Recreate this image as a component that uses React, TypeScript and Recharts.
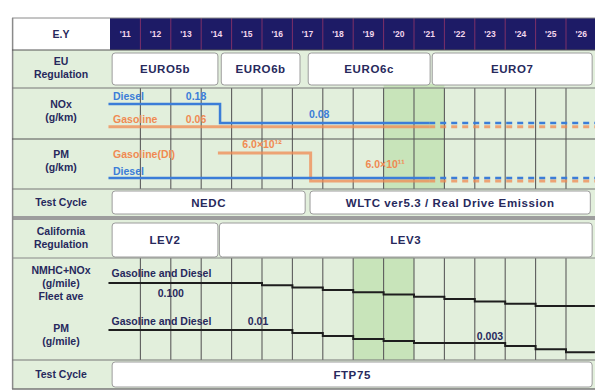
import React from 'react';
import {
  ComposedChart, XAxis, YAxis, Line, ReferenceArea, ReferenceLine, ReferenceDot,
} from 'recharts';

const W = 595;
const H = 392;

// ---------- data ----------
const years = [2011, 2012, 2013, 2014, 2015, 2016, 2017, 2018, 2019, 2020, 2021, 2022, 2023, 2024, 2025, 2026];
const yearLabels = ["'11", "'12", "'13", "'14", "'15", "'16", "'17", "'18", "'19", "'20", "'21", "'22", "'23", "'24", "'25", "'26"];

const euStages = [
  { name: 'EURO5b', from: 2011.07, to: 2014.55 },
  { name: 'EURO6b', from: 2014.66, to: 2017.25 },
  { name: 'EURO6c', from: 2017.52, to: 2021.53 },
  { name: 'EURO7', from: 2021.6, to: 2026.86 },
];
const euCycles = [
  { name: 'NEDC', from: 2011.07, to: 2017.42 },
  { name: 'WLTC ver5.3 / Real Drive Emission', from: 2017.58, to: 2026.8 },
];
const calStages = [
  { name: 'LEV2', from: 2011.07, to: 2014.55 },
  { name: 'LEV3', from: 2014.6, to: 2026.86 },
];
const calCycles = [{ name: 'FTP75', from: 2011.07, to: 2026.86 }];

// EU NOx (g/km)
const noxDiesel = [{ year: 2010.95, v: 0.18 }, { year: 2014.62, v: 0.08 }, { year: 2021.5, v: 0.08 }];
const noxDieselNext = [{ year: 2021.5, v: 0.08 }, { year: 2026.95, v: 0.08 }];
const noxGasoline = [{ year: 2010.95, v: 0.06 }, { year: 2021.5, v: 0.06 }];
const noxGasolineNext = [{ year: 2021.5, v: 0.06 }, { year: 2026.95, v: 0.06 }];

// EU PM (g/km) diesel, PN (#/km) gasoline DI
const pmDiesel = [{ year: 2010.95, v: 0.0045 }, { year: 2021.5, v: 0.0045 }];
const pmDieselNext = [{ year: 2021.5, v: 0.0045 }, { year: 2026.95, v: 0.0045 }];
const pnGasoline = [{ year: 2014.55, v: 6e12 }, { year: 2017.6, v: 6e11 }, { year: 2021.5, v: 6e11 }];
const pnGasolineNext = [{ year: 2021.5, v: 6e11 }, { year: 2026.95, v: 6e11 }];

// California NMOG+NOx fleet average (g/mile)
const nmhcFleet = [
  { year: 2010.95, v: 0.1 }, { year: 2015, v: 0.1 }, { year: 2016, v: 0.093 }, { year: 2017, v: 0.086 },
  { year: 2018, v: 0.079 }, { year: 2019, v: 0.072 }, { year: 2020, v: 0.065 }, { year: 2021, v: 0.058 },
  { year: 2022, v: 0.051 }, { year: 2023, v: 0.044 }, { year: 2024, v: 0.037 }, { year: 2025, v: 0.03 },
  { year: 2026.95, v: 0.03 },
];
// California PM (g/mile)
const pmCal = [
  { year: 2010.95, v: 0.01 }, { year: 2017, v: 0.0076 }, { year: 2018, v: 0.0058 }, { year: 2019, v: 0.0044 },
  { year: 2020, v: 0.0036 }, { year: 2021, v: 0.003 }, { year: 2024, v: 0.0023 }, { year: 2025, v: 0.0017 },
  { year: 2026, v: 0.0013 }, { year: 2026.95, v: 0.0013 },
];

// ---------- layout ----------
const PX_PER_YEAR = 30.4;
const LEFT = 12;
const X2011 = 110;
const X_DOMAIN = [2011 - (X2011 - LEFT) / PX_PER_YEAR, 2011 + (W - X2011) / PX_PER_YEAR];
const XL = X_DOMAIN[0];
const XR = X_DOMAIN[1];

function linDomain(v1: number, p1: number, v2: number, p2: number) {
  const s = (p2 - p1) / (v1 - v2);
  return [v1 - (H - p1) / s, v1 + p1 / s];
}
function logDomain(v1: number, p1: number, v2: number, p2: number) {
  const d = linDomain(Math.log10(v1), p1, Math.log10(v2), p2);
  return [10 ** d[0], 10 ** d[1]];
}
const NOX_DOMAIN = linDomain(0.18, 104, 0.08, 123);
const PM_DOMAIN = linDomain(0.0045, 178, 0, 190);
const PN_DOMAIN = logDomain(6e12, 153, 6e11, 181);
const NMHC_DOMAIN = linDomain(0.1, 283, 0.03, 306);
const CPM_DOMAIN = logDomain(0.01, 330, 0.001, 355);

const BG = '#e2efdc';
const HILITE = '#c8e4ba';
const HEADER = '#1d1b66';
const NAVY = '#27295c';
const BLUE = '#3b7dd8';
const ORANGE = '#f08a52';
const GRID = '#5c5c5c';
const FONT = "'Liberation Sans', Arial, sans-serif";

const CellText = ({ viewBox, lines, tone = NAVY, size = 9.5, spacing = 0 }: any) => {
  if (!viewBox) return null;
  const { x, y, width, height } = viewBox;
  const gap = size * 1.25;
  const cx = x + width / 2;
  const top = y + height / 2 - (gap * (lines.length - 1)) / 2 + size * 0.35;
  return (
    <text x={cx} textAnchor="middle" fill={tone} fontSize={size} fontWeight={700} fontFamily={FONT} letterSpacing={spacing}>
      {lines.map((l: string, i: number) => (
        <tspan key={i} x={cx} y={top + i * gap}>{l}</tspan>
      ))}
    </text>
  );
};

const Note = ({ viewBox, text, tone, dy = 0, anchor = 'middle', size = 10.5 }: any) => {
  if (!viewBox) return null;
  const cx = viewBox.x + viewBox.width / 2;
  const cy = viewBox.y + viewBox.height / 2;
  return (
    <text x={cx} y={cy + dy + size * 0.35} textAnchor={anchor} fill={tone} fontSize={size} fontWeight={700} fontFamily={FONT}>
      {text}
    </text>
  );
};

const rowLabels = [
  { lines: ['E.Y'], y1: 18, y2: 50 },
  { lines: ['EU', 'Regulation'], y1: 50, y2: 86 },
  { lines: ['NOx', '(g/km)'], y1: 88, y2: 134 },
  { lines: ['PM', '(g/km)'], y1: 139, y2: 182 },
  { lines: ['Test Cycle'], y1: 189, y2: 216 },
  { lines: ['California', 'Regulation'], y1: 220, y2: 255 },
  { lines: ['NMHC+NOx', '(g/mile)', 'Fleet ave'], y1: 262, y2: 305 },
  { lines: ['PM', '(g/mile)'], y1: 316, y2: 354 },
  { lines: ['Test Cycle'], y1: 360, y2: 389 },
];

const hLines = [
  { y: 18, c: '#8a8a8a', w: 1 },
  { y: 50, c: '#555', w: 1.2 },
  { y: 88, c: '#777', w: 1 },
  { y: 139, c: '#555', w: 1.2 },
  { y: 189, c: '#777', w: 1 },
  { y: 258, c: '#888', w: 1 },
  { y: 360, c: '#777', w: 1 },
  { y: 389, c: '#777', w: 1.5 },
];

const box = (s: { name: string; from: number; to: number }, y1: number, y2: number, size = 11.5) => (
  <ReferenceArea
    key={s.name}
    yAxisId="L"
    x1={s.from}
    x2={s.to}
    y1={y1}
    y2={y2}
    fill="#ffffff"
    fillOpacity={1}
    stroke="#9c9c9c"
    strokeWidth={1}
    radius={3}
    ifOverflow="visible"
    label={<CellText lines={[s.name]} size={size} spacing={0.6} />}
  />
);

const vLine = (x: number, y1: number, y2: number, color: string, w = 1, k = '') => (
  <ReferenceLine
    key={`v${k}${x}-${y1}`}
    yAxisId="L"
    segment={[{ x, y: y1 }, { x, y: y2 }]}
    stroke={color}
    strokeWidth={w}
    ifOverflow="visible"
  />
);

const note = (axis: string, x: number, y: number, text: string, tone: string, dy: number, anchor = 'middle') => (
  <ReferenceDot
    key={`${axis}${text}${x}`}
    yAxisId={axis}
    x={x}
    y={y}
    r={1}
    fill="none"
    stroke="none"
    ifOverflow="visible"
    label={<Note text={text} tone={tone} dy={dy} anchor={anchor} />}
  />
);

export default function App() {
  return (
    <div style={{ position: 'absolute', left: 0, top: 0, width: W, height: H, background: '#ffffff' }}>
      <ComposedChart width={W} height={H} margin={{ top: 0, right: 0, bottom: 0, left: LEFT }}>
        <XAxis dataKey="year" type="number" domain={X_DOMAIN} allowDataOverflow hide />
        <YAxis yAxisId="L" type="number" domain={[0, H]} reversed allowDataOverflow hide />
        <YAxis yAxisId="nox" type="number" domain={NOX_DOMAIN} allowDataOverflow hide />
        <YAxis yAxisId="pm" type="number" domain={PM_DOMAIN} allowDataOverflow hide />
        <YAxis yAxisId="pn" type="number" scale="log" domain={PN_DOMAIN} allowDataOverflow hide />
        <YAxis yAxisId="nmhc" type="number" domain={NMHC_DOMAIN} allowDataOverflow hide />
        <YAxis yAxisId="cpm" type="number" scale="log" domain={CPM_DOMAIN} allowDataOverflow hide />

        {/* table background */}
        <ReferenceArea yAxisId="L" x1={XL} x2={XR} y1={18} y2={389} fill={BG} fillOpacity={1} ifOverflow="visible" />
        <ReferenceArea yAxisId="L" x1={2011} x2={XR} y1={18} y2={50} fill={HEADER} fillOpacity={1} ifOverflow="visible" />
        <ReferenceArea yAxisId="L" x1={XL} x2={2011} y1={18} y2={50} fill="#ffffff" fillOpacity={1} ifOverflow="visible" />
        <ReferenceArea yAxisId="L" x1={2020} x2={2022} y1={84} y2={189} fill={HILITE} fillOpacity={1} ifOverflow="visible" />
        <ReferenceArea yAxisId="L" x1={2019} x2={2021} y1={256} y2={360} fill={HILITE} fillOpacity={1} ifOverflow="visible" />
        <ReferenceArea yAxisId="L" x1={XL} x2={XR} y1={216} y2={220} fill="#9d9d9d" fillOpacity={1} ifOverflow="visible" />

        {/* grid */}
        {years.slice(1).map(y => vLine(y, 18, 50, '#7d3068', 1, 'h'))}
        {years.slice(1).map(y => vLine(y, 88, 189, GRID, 1.1, 'e'))}
        {years.slice(1).map(y => vLine(y, 258, 360, GRID, 1.1, 'c'))}
        {vLine(XL + 0.02, 18, 389, '#8a8a8a', 1.5, 'b')}
        {hLines.map(h => (
          <ReferenceLine key={`h${h.y}`} yAxisId="L" y={h.y} stroke={h.c} strokeWidth={h.w} ifOverflow="visible" />
        ))}

        {/* regulation boxes */}
        {euStages.map(s => box(s, 53, 85))}
        {euCycles.map(s => box(s, 191, 214))}
        {calStages.map(s => box(s, 223, 257))}
        {calCycles.map(s => box(s, 362, 387))}

        {/* header text */}
        {years.map((y, i) => (
          <ReferenceArea
            key={`yl${y}`}
            yAxisId="L"
            x1={y}
            x2={y + 1}
            y1={18}
            y2={50}
            fill="none"
            stroke="none"
            ifOverflow="visible"
            label={<CellText lines={[yearLabels[i]]} size={8.5} tone="#f2d6ec" />}
          />
        ))}
        {rowLabels.map(r => (
          <ReferenceArea
            key={`rl${r.y1}`}
            yAxisId="L"
            x1={XL}
            x2={2011}
            y1={r.y1}
            y2={r.y2}
            fill="none"
            stroke="none"
            ifOverflow="visible"
            label={<CellText lines={r.lines} size={10.5} />}
          />
        ))}

        {/* EU limits */}
        <Line yAxisId="nox" data={noxGasoline} dataKey="v" type="stepAfter" stroke={ORANGE} strokeWidth={3} strokeOpacity={0.75} dot={false} isAnimationActive={false} />
        <Line yAxisId="nox" data={noxGasolineNext} dataKey="v" type="linear" stroke={ORANGE} strokeWidth={3} strokeOpacity={0.75} strokeDasharray="6 5" dot={false} isAnimationActive={false} />
        <Line yAxisId="nox" data={noxDiesel} dataKey="v" type="stepAfter" stroke={BLUE} strokeWidth={2.5} dot={false} isAnimationActive={false} />
        <Line yAxisId="nox" data={noxDieselNext} dataKey="v" type="linear" stroke={BLUE} strokeWidth={2.5} strokeDasharray="6 5" dot={false} isAnimationActive={false} />
        <Line yAxisId="pn" data={pnGasoline} dataKey="v" type="stepAfter" stroke={ORANGE} strokeWidth={3} strokeOpacity={0.75} dot={false} isAnimationActive={false} />
        <Line yAxisId="pn" data={pnGasolineNext} dataKey="v" type="linear" stroke={ORANGE} strokeWidth={3} strokeOpacity={0.75} strokeDasharray="6 5" dot={false} isAnimationActive={false} />
        <Line yAxisId="pm" data={pmDiesel} dataKey="v" type="stepAfter" stroke={BLUE} strokeWidth={2.5} dot={false} isAnimationActive={false} />
        <Line yAxisId="pm" data={pmDieselNext} dataKey="v" type="linear" stroke={BLUE} strokeWidth={2.5} strokeDasharray="6 5" dot={false} isAnimationActive={false} />

        {/* California limits */}
        <Line yAxisId="nmhc" data={nmhcFleet} dataKey="v" type="stepAfter" stroke="#1e1e1e" strokeWidth={2} dot={false} isAnimationActive={false} />
        <Line yAxisId="cpm" data={pmCal} dataKey="v" type="stepAfter" stroke="#1e1e1e" strokeWidth={2} dot={false} isAnimationActive={false} />

        {/* annotations */}
        {note('nox', 2011.1, 0.18, 'Diesel', BLUE, -8, 'start')}
        {note('nox', 2013.83, 0.18, '0.18', BLUE, -8)}
        {note('nox', 2011.1, 0.06, 'Gasoline', ORANGE, -7, 'start')}
        {note('nox', 2013.83, 0.06, '0.06', ORANGE, -7)}
        {note('nox', 2017.88, 0.08, '0.08', BLUE, -9)}
        {note('pn', 2011.1, 6e12, 'Gasoline(DI)', ORANGE, 1, 'start')}
        {note('pn', 2016.0, 6e12, '6.0×10¹²', ORANGE, -9)}
        {note('pn', 2020.05, 6e11, '6.0×10¹¹', ORANGE, -17)}
        {note('pm', 2011.1, 0.0045, 'Diesel', BLUE, -7, 'start')}
        {note('nmhc', 2011.05, 0.1, 'Gasoline and Diesel', NAVY, -10, 'start')}
        {note('nmhc', 2013.0, 0.1, '0.100', NAVY, 10)}
        {note('cpm', 2011.05, 0.01, 'Gasoline and Diesel', NAVY, -9, 'start')}
        {note('cpm', 2015.87, 0.01, '0.01', NAVY, -9)}
        {note('cpm', 2023.5, 0.003, '0.003', NAVY, -7)}
      </ComposedChart>
    </div>
  );
}
